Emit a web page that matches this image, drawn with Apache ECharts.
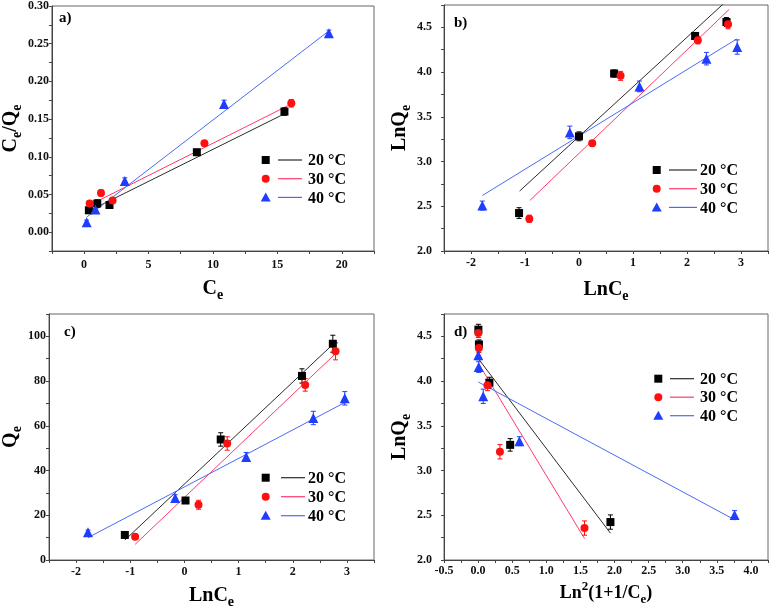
<!DOCTYPE html>
<html><head><meta charset="utf-8">
<script src="https://cdn.jsdelivr.net/npm/echarts@6/dist/echarts.min.js"></script>
<style>html,body{margin:0;padding:0;background:#fff}#c{width:771px;height:614px}</style>
</head><body><div id="c"></div>
<script>
// ---------- DATA ----------
// Panel a: Ce vs Ce/Qe
const A_X20 = [0.37, 1.02, 1.97, 8.75, 15.55];
const A_Y20 = [0.029, 0.038, 0.036, 0.106, 0.160];
const A_E20 = [0.004, 0.005, 0.003, 0.004, 0.005];
const A_X30 = [0.43, 1.31, 2.21, 9.34, 16.08];
const A_Y30 = [0.038, 0.052, 0.042, 0.118, 0.171];
const A_E30 = [0.004, 0.004, 0.004, 0.003, 0.005];
const A_X40 = [0.20, 0.88, 3.16, 10.86, 19.0];
const A_Y40 = [0.013, 0.030, 0.068, 0.170, 0.264];
const A_E40 = [0.003, 0.004, 0.004, 0.005, 0.004];
const A_FIT20 = [[0.37, 0.028], [15.55, 0.157]];
const A_FIT30 = [[0.43, 0.036], [16.08, 0.170]];
const A_FIT40 = [[0.20, 0.020], [19.0, 0.267]];

// Panel b: LnCe vs LnQe
const B_X20 = [-1.11, 0.0, 0.65, 2.15, 2.73];
const B_Y20 = [2.424, 3.282, 3.984, 4.404, 4.56];
const B_E20 = [0.06, 0.05, 0.04, 0.03, 0.05];
const B_X30 = [-0.92, 0.245, 0.77, 2.2, 2.76];
const B_Y30 = [2.36, 3.204, 3.958, 4.356, 4.534];
const B_E30 = [0.04, 0.03, 0.05, 0.04, 0.05];
const B_X40 = [-1.79, -0.17, 1.12, 2.36, 2.93];
const B_Y40 = [2.508, 3.326, 3.84, 4.15, 4.28];
const B_E40 = [0.05, 0.07, 0.06, 0.07, 0.08];
const B_FIT20 = [[-1.1, 2.67], [2.74, 4.80]];
const B_FIT30 = [[-0.91, 2.565], [2.78, 4.70]];
const B_FIT40 = [[-1.79, 2.62], [2.92, 4.37]];

// Panel c: LnCe vs Qe
const C_X20 = [-1.1, 0.02, 0.67, 2.17, 2.74];
const C_Y20 = [11.2, 26.6, 53.9, 82.3, 96.7];
const C_E20 = [1.2, 1.0, 3.0, 3.2, 3.8];
const C_X30 = [-0.91, 0.26, 0.79, 2.23, 2.79];
const C_Y30 = [10.4, 24.7, 52.1, 78.3, 93.3];
const C_E30 = [1.0, 2.0, 3.0, 2.8, 3.8];
const C_X40 = [-1.78, -0.17, 1.14, 2.38, 2.96];
const C_Y40 = [12.4, 27.7, 46.1, 63.5, 72.3];
const C_E40 = [1.0, 1.5, 2.0, 3.0, 3.0];
const C_FIT20 = [[-1.1, 8.9], [2.74, 96.4]];
const C_FIT30 = [[-0.91, 7.0], [2.79, 92.3]];
const C_FIT40 = [[-1.78, 10.0], [2.96, 70.4]];

// Panel d: Ln^2(1+1/Ce) vs LnQe
const D_X20 = [0.004, 0.012, 0.166, 0.47, 1.94];
const D_Y20 = [4.575, 4.41, 3.983, 3.287, 2.424];
const D_E20 = [0.06, 0.05, 0.06, 0.07, 0.08];
const D_X30 = [0.0035, 0.0107, 0.137, 0.32, 1.56];
const D_Y30 = [4.537, 4.37, 3.953, 3.21, 2.357];
const D_E30 = [0.05, 0.05, 0.06, 0.08, 0.08];
const D_X40 = [0.0027, 0.0088, 0.075, 0.605, 3.76];
const D_Y40 = [4.288, 4.157, 3.83, 3.328, 2.502];
const D_E40 = [0.05, 0.06, 0.08, 0.05, 0.05];
const D_FIT20 = [[0.004, 4.25], [1.94, 2.30]];
const D_FIT30 = [[0.003, 4.20], [1.56, 2.24]];
const D_FIT40 = [[0.003, 3.99], [3.76, 2.45]];

const LEGEND_LABELS = ['20 °C', '30 °C', '40 °C'];
const PANEL_LABELS = ['a)', 'b)', 'c)', 'd)'];

// ---------- STYLE ----------
const F = '"Liberation Serif","Times New Roman",serif';
const MK = ['#000000', '#ff1010', '#1f3dff'];
const LN = ['#2b2b2b', '#ff3b6b', '#4a6cf5'];
const SYM = ['rect', 'circle', 'triangle'];
const SYMSIZE = [8, 8, 10];
const AX = '#444';

const rich = {
  m: {fontFamily: F, fontWeight: 'bold', fontSize: 20, lineHeight: 26, verticalAlign: 'middle', color: '#000'},
  s: {fontFamily: F, fontWeight: 'bold', fontSize: 14, lineHeight: 14, verticalAlign: 'bottom', color: '#000'},
  u: {fontFamily: F, fontWeight: 'bold', fontSize: 13, lineHeight: 14, verticalAlign: 'top', color: '#000'},
  dm: {fontFamily: F, fontWeight: 'bold', fontSize: 18, lineHeight: 26, verticalAlign: 'middle', color: '#000'},
  ds: {fontFamily: F, fontWeight: 'bold', fontSize: 13, lineHeight: 14, verticalAlign: 'bottom', color: '#000'}
};

function isMul(v, m) { const r = v / m; return Math.abs(r - Math.round(r)) < 1e-6; }
function axis(dim, gi, min, max, step, major, dec, margin, name, gap) {
  return {
    type: 'value', gridIndex: gi, min, max, interval: step,
    name, nameLocation: 'middle', nameGap: gap, nameRotate: dim === 'y' ? 90 : 0,
    nameTextStyle: {rich},
    axisLine: {show: true, onZero: false, lineStyle: {color: AX, width: 1}},
    axisTick: {show: true, inside: false, length: 3, lineStyle: {color: AX, width: 1}},
    splitLine: {show: false},
    axisLabel: {
      margin, fontFamily: F, fontWeight: 'bold', fontSize: 12, color: '#111',
      showMinLabel: true, showMaxLabel: true,
      formatter: v => { if (!isMul(v, major)) return ''; if (Math.abs(v) < 1e-9) v = 0; return v.toFixed(dec); }
    }
  };
}
const zip = (xs, ys) => xs.map((x, i) => [x, ys[i]]);
const zip3 = (xs, ys, es) => xs.map((x, i) => [x, ys[i], es[i]]);

function errSeries(gi, data, color) {
  return {
    type: 'custom', xAxisIndex: gi, yAxisIndex: gi, data, z: 3, silent: true,
    encode: {x: 0, y: 1},
    renderItem: (p, api) => {
      const x = api.value(0), y = api.value(1), e = api.value(2);
      const a = api.coord([x, y + e]), b = api.coord([x, y - e]);
      const w = 2.5, st = {stroke: color, lineWidth: 1};
      return {type: 'group', children: [
        {type: 'line', shape: {x1: a[0], y1: a[1], x2: b[0], y2: b[1]}, style: st},
        {type: 'line', shape: {x1: a[0] - w, y1: a[1], x2: a[0] + w, y2: a[1]}, style: st},
        {type: 'line', shape: {x1: b[0] - w, y1: b[1], x2: b[0] + w, y2: b[1]}, style: st}
      ]};
    }
  };
}
function panelSeries(gi, sets) {
  const out = [];
  sets.forEach((s, k) => {
    out.push({type: 'line', name: LEGEND_LABELS[k] + ' fit', xAxisIndex: gi, yAxisIndex: gi, data: s.fit,
      symbol: 'none', clip: true, z: 2, lineStyle: {color: LN[k], width: 1}, silent: true});
    out.push(errSeries(gi, zip3(s.x, s.y, s.e), MK[k]));
    out.push({type: 'scatter', name: LEGEND_LABELS[k], xAxisIndex: gi, yAxisIndex: gi, data: zip(s.x, s.y),
      symbol: SYM[k], symbolSize: SYMSIZE[k], z: 4, itemStyle: {color: MK[k], opacity: 1}});
  });
  return out;
}

const series = [].concat(
  panelSeries(0, [{x: A_X20, y: A_Y20, e: A_E20, fit: A_FIT20}, {x: A_X30, y: A_Y30, e: A_E30, fit: A_FIT30}, {x: A_X40, y: A_Y40, e: A_E40, fit: A_FIT40}]),
  panelSeries(1, [{x: B_X20, y: B_Y20, e: B_E20, fit: B_FIT20}, {x: B_X30, y: B_Y30, e: B_E30, fit: B_FIT30}, {x: B_X40, y: B_Y40, e: B_E40, fit: B_FIT40}]),
  panelSeries(2, [{x: C_X20, y: C_Y20, e: C_E20, fit: C_FIT20}, {x: C_X30, y: C_Y30, e: C_E30, fit: C_FIT30}, {x: C_X40, y: C_Y40, e: C_E40, fit: C_FIT40}]),
  panelSeries(3, [{x: D_X20, y: D_Y20, e: D_E20, fit: D_FIT20}, {x: D_X30, y: D_Y30, e: D_E30, fit: D_FIT30}, {x: D_X40, y: D_Y40, e: D_E40, fit: D_FIT40}])
);

const gridBox = (left, top) => ({left, top, width: 325, height: 246, show: true, borderColor: '#666', borderWidth: 1, backgroundColor: 'transparent'});

// legend graphics
function legendGroup(mx, y0, dy, lx1, lx2, tx) {
  const els = [];
  for (let k = 0; k < 3; k++) {
    const y = y0 + k * dy;
    if (k === 0) els.push({type: 'rect', shape: {x: mx - 4, y: y - 4, width: 8, height: 8}, style: {fill: MK[0]}});
    if (k === 1) els.push({type: 'circle', shape: {cx: mx, cy: y, r: 4}, style: {fill: MK[1]}});
    if (k === 2) els.push({type: 'polygon', shape: {points: [[mx, y - 5], [mx + 5, y + 4], [mx - 5, y + 4]]}, style: {fill: MK[2]}});
    els.push({type: 'line', shape: {x1: lx1, y1: y, x2: lx2, y2: y}, style: {stroke: LN[k], lineWidth: 1.2}});
    els.push({type: 'text', style: {text: LEGEND_LABELS[k], x: tx, y: y + 1, verticalAlign: 'middle', font: 'bold 16px ' + F, fill: '#000'}});
  }
  return els;
}
function panelLabel(text, x, y) {
  return {type: 'text', style: {text, x, y, verticalAlign: 'middle', font: 'bold 15px ' + F, fill: '#000'}};
}
const graphic = [].concat(
  legendGroup(265.7, 160, 18.7, 278, 302, 308),
  legendGroup(656.7, 170, 18.7, 669, 697, 700),
  legendGroup(265.7, 477.7, 19, 281, 305, 308),
  legendGroup(658.3, 378.7, 18.5, 670, 694, 700),
  [panelLabel(PANEL_LABELS[0], 59, 18), panelLabel(PANEL_LABELS[1], 454, 23), panelLabel(PANEL_LABELS[2], 64, 332), panelLabel(PANEL_LABELS[3], 454, 332)]
);

const option = {
  backgroundColor: '#fff',
  animation: false,
  grid: [gridBox(49, 5), gridBox(444, 5), gridBox(49, 314), gridBox(444, 314)],
  xAxis: [
    axis('x', 0, -2.5, 22.5, 2.5, 5, 0, 8, '{m|C}{s|e}', 25),
    axis('x', 1, -2.5, 3.5, 0.5, 1, 0, 6, '{m|LnC}{s|e}', 26),
    axis('x', 2, -2.5, 3.5, 0.5, 1, 0, 6, '{m|LnC}{s|e}', 23),
    axis('x', 3, -0.5, 4.25, 0.25, 0.5, 1, 5, '{dm|Ln}{u|2}{dm|(1+1/C}{ds|e}{dm|)}', 20)
  ],
  yAxis: [
    axis('y', 0, -0.025, 0.30, 0.025, 0.05, 2, 3, '{m|C}{s|e}{m|/Q}{s|e}', 24),
    axis('y', 1, 2.0, 4.75, 0.25, 0.5, 1, 12, '{m|LnQ}{s|e}', 20),
    axis('y', 2, 0, 110, 10, 20, 0, 3, '{m|Q}{s|e}', 24),
    axis('y', 3, 2.0, 4.75, 0.25, 0.5, 1, 12, '{m|LnQ}{s|e}', 20)
  ],
  series,
  graphic
};
const chart = echarts.init(document.getElementById('c'), null, {renderer: 'canvas'});
chart.setOption(option);
</script>
</body></html>
